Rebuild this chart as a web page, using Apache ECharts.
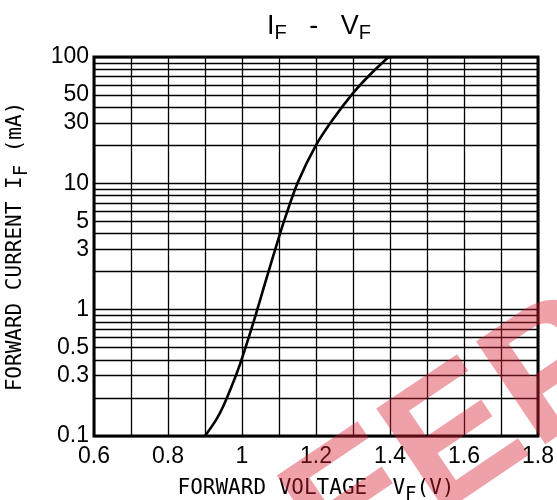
<!DOCTYPE html>
<html>
<head>
<meta charset="utf-8">
<script src="https://cdn.jsdelivr.net/npm/echarts@6/dist/echarts.min.js"></script>
<style>
  html, body { margin: 0; padding: 0; background: #fff; }
  #chart { width: 557px; height: 500px; }
</style>
</head>
<body>
<div id="chart"></div>
<script>
// forward voltage (V) vs forward current (mA)
const vf = [0.9, 0.93, 0.949, 0.975, 0.997, 1.033, 1.065, 1.098, 1.119, 1.151, 1.199, 1.245, 1.3, 1.345, 1.396];
const iF = [0.1, 0.134, 0.171, 0.26, 0.388, 0.83, 1.72, 3.6, 5.6, 10.2, 19.8, 31.8, 51.7, 72, 100];

// horizontal grid lines between decades, and the ones that get a label
const minorLines = [0.2, 0.3, 0.4, 0.5, 0.6, 0.7, 0.8, 0.9, 2, 3, 4, 5, 6, 7, 8, 9, 20, 30, 40, 50, 60, 70, 80, 90];
const minorLabels = [0.3, 0.5, 3, 5, 30, 50];
const xLabels = ["0.6", "0.8", "1", "1.2", "1.4", "1.6", "1.8"];

const labelFont = "Liberation Sans";
const nameFont = "DejaVu Sans Mono";

const chart = echarts.init(document.getElementById("chart"));

const option = {
  animation: false,
  title: {
    text: "I{s|F}   -   V{s|F}",
    left: 262,
    top: 6,
    textStyle: {
      fontFamily: labelFont,
      fontSize: 27,
      fontWeight: "normal",
      color: "#000",
      rich: {
        s: { fontFamily: labelFont, fontSize: 20, color: "#000", padding: [12, 0, 0, 0] },
      },
    },
  },
  grid: {
    left: 94,
    right: 19,
    top: 57,
    bottom: 64,
    outerBoundsMode: "none",
    show: true,
    borderColor: "#000",
    borderWidth: 3,
    z: 10,
  },
  xAxis: {
    type: "value",
    min: 0.6,
    max: 1.8,
    interval: 0.1,
    name: "FORWARD VOLTAGE  V{s|F}(V)",
    nameLocation: "middle",
    nameGap: 36,
    nameTextStyle: {
      fontFamily: nameFont,
      fontSize: 21,
      color: "#000",
      rich: {
        s: { fontFamily: nameFont, fontSize: 19, color: "#000", padding: [14, 0, 0, 0] },
      },
    },
    axisLine: { show: false },
    axisTick: { show: false },
    axisLabel: {
      margin: 9,
      fontFamily: labelFont,
      fontSize: 23,
      color: "#000",
      formatter: (v) => {
        const s = String(+v.toFixed(1));
        return xLabels.includes(s) ? s : "";
      },
    },
    splitLine: { show: true, lineStyle: { color: "#000", width: 1.3 } },
  },
  yAxis: {
    type: "log",
    logBase: 10,
    min: 0.1,
    max: 100,
    name: "FORWARD CURRENT I{s|F} (mA)",
    nameLocation: "middle",
    nameGap: 62,
    nameTextStyle: {
      fontFamily: nameFont,
      fontSize: 21,
      color: "#000",
      rich: {
        s: { fontFamily: nameFont, fontSize: 19, color: "#000", padding: [14, 0, 0, 0] },
      },
    },
    axisLine: { show: false },
    axisTick: { show: false },
    axisLabel: {
      margin: 5,
      fontFamily: labelFont,
      fontSize: 23,
      color: "#000",
      formatter: (v) => String(+v.toPrecision(3)),
    },
    splitLine: { show: true, lineStyle: { color: "#000", width: 1.3 } },
  },
  series: [
    {
      type: "line",
      data: vf.map((v, i) => [v, iF[i]]),
      smooth: 0.3,
      smoothMonotone: "none",
      showSymbol: false,
      lineStyle: { color: "#000", width: 2.6 },
      z: 5,
      markLine: {
        silent: true,
        symbol: "none",
        animation: false,
        lineStyle: { color: "#000", width: 1.3, type: "solid" },
        data: minorLines.map((v) => ({
          yAxis: v,
          label: {
            show: minorLabels.includes(v),
            position: "start",
            distance: 5,
            formatter: String(v),
            fontFamily: labelFont,
            fontSize: 23,
            color: "#000",
          },
        })),
      },
    },
  ],
  graphic: [
    {
      type: "text",
      left: 258,
      top: 268,
      rotation: Math.PI / 5.3,
      z: 100,
      silent: true,
      style: {
        text: "EEP",
        font: "bold 180px Liberation Sans",
        fill: "rgba(215, 30, 50, 0.42)",
      },
    },
  ],
};

chart.setOption(option);
</script>
</body>
</html>
